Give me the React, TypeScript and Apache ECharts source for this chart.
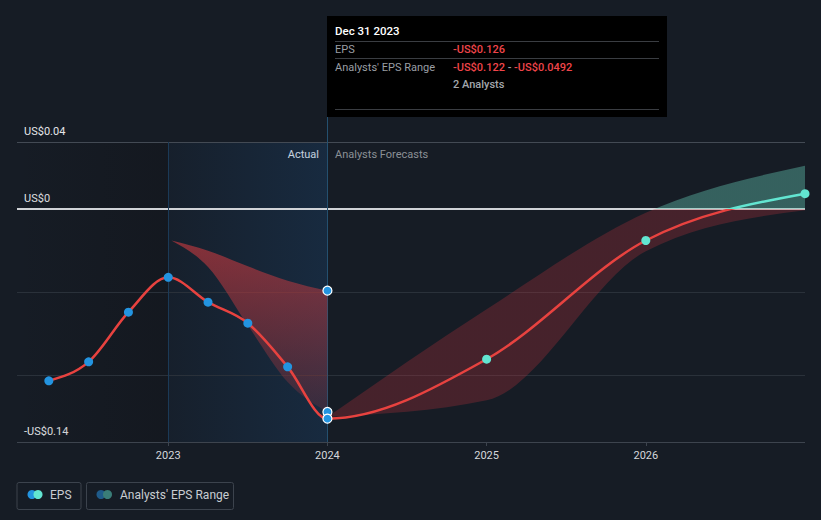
import React, { useEffect, useRef } from "react";
import * as echarts from "echarts";

// ---- data ----
const actualX = [2022.25, 2022.5, 2022.75, 2023.0, 2023.25, 2023.5, 2023.75, 2024.0];
const actualEPS = [-0.1033, -0.0919, -0.0621, -0.0412, -0.0561, -0.0687, -0.0949, -0.126];

const forecastX = [2024.0, 2025.0, 2026.0, 2027.0];
const forecastEPS = [-0.126, -0.0903, -0.0191, 0.009];
const forecastLow = [-0.125, -0.115, -0.0255, -0.001];
const forecastHigh = [-0.125, -0.0603, -0.0024, 0.0257];

const histRangeX = [2023.02, 2023.25, 2023.5, 2023.75, 2024.0];
const histRangeLow = [-0.0191, -0.035, -0.07, -0.104, -0.122];
const histRangeHigh = [-0.0191, -0.0252, -0.0346, -0.0432, -0.0492];

const rangeMarkerX = [2024.0, 2024.0];
const rangeMarkerY = [-0.122, -0.0492];

const yearLabels = [2023, 2024, 2025, 2026];
const yLabelValues = [0.04, 0, -0.14];
const gridValues = [0.04, -0.05, -0.1];

// ---- layout constants ----
const W = 821;
const H = 520;
const GRID_LEFT = 9.04;
const GRID_RIGHT = 16;
const GRID_TOP = 142;
const GRID_BOTTOM = 78;
const Y_MIN = -0.14;
const Y_MAX = 0.04;
const X_MIN = 2022;
const X_MAX = 2027;
const X_START = 2022.05; // visible start of plot

const RED = "#e8423f";
const TEAL = "#62e5d1";
const BLUE = "#2394e0";
const FONT = "Roboto, 'Noto Sans', sans-serif";

const zip = (xs: number[], ys: number[]) => xs.map((x, i) => [x, ys[i]]);

function fmtY(v: number) {
  if (Math.abs(v) < 1e-9) return "US$0";
  const s = "US$" + Math.abs(v).toFixed(2);
  return v < 0 ? "-" + s : s;
}

// ---- monotone-x cubic path helpers (pixel space) ----
type P = number[];
const sgn = (x: number) => (x < 0 ? -1 : 1);
function tangents(p: P[]): number[] {
  const n = p.length;
  const t = new Array(n).fill(0);
  if (n < 2) return t;
  if (n === 2) {
    const s = (p[1][1] - p[0][1]) / (p[1][0] - p[0][0]);
    return [s, s];
  }
  for (let i = 1; i < n - 1; i++) {
    const h0 = p[i][0] - p[i - 1][0];
    const h1 = p[i + 1][0] - p[i][0];
    const s0 = (p[i][1] - p[i - 1][1]) / h0;
    const s1 = (p[i + 1][1] - p[i][1]) / h1;
    const q = (s0 * h1 + s1 * h0) / (h0 + h1);
    t[i] = (sgn(s0) + sgn(s1)) * Math.min(Math.abs(s0), Math.abs(s1), 0.5 * Math.abs(q)) || 0;
  }
  const sFirst = (p[1][1] - p[0][1]) / (p[1][0] - p[0][0]);
  t[0] = (3 * sFirst - t[1]) / 2;
  const sLast = (p[n - 1][1] - p[n - 2][1]) / (p[n - 1][0] - p[n - 2][0]);
  t[n - 1] = (3 * sLast - t[n - 2]) / 2;
  return t;
}
function forward(p: P[], t: number[]): string {
  let d = "";
  for (let i = 0; i < p.length - 1; i++) {
    const dx = (p[i + 1][0] - p[i][0]) / 3;
    d += ` C ${p[i][0] + dx} ${p[i][1] + dx * t[i]} ${p[i + 1][0] - dx} ${p[i + 1][1] - dx * t[i + 1]} ${p[i + 1][0]} ${p[i + 1][1]}`;
  }
  return d;
}
function backward(p: P[], t: number[]): string {
  let d = "";
  for (let i = p.length - 1; i > 0; i--) {
    const dx = (p[i][0] - p[i - 1][0]) / 3;
    d += ` C ${p[i][0] - dx} ${p[i][1] - dx * t[i]} ${p[i - 1][0] + dx} ${p[i - 1][1] + dx * t[i - 1]} ${p[i - 1][0]} ${p[i - 1][1]}`;
  }
  return d;
}
function linePath(p: P[]): string {
  return `M ${p[0][0]} ${p[0][1]}` + forward(p, tangents(p));
}
function bandPath(up: P[], low: P[]): string {
  const n = low.length;
  return (
    `M ${up[0][0]} ${up[0][1]}` +
    forward(up, tangents(up)) +
    ` L ${low[n - 1][0]} ${low[n - 1][1]}` +
    backward(low, tangents(low)) +
    " Z"
  );
}

export default function App() {
  const ref = useRef<HTMLDivElement>(null);

  useEffect(() => {
    if (!ref.current) return;
    const chart = echarts.init(ref.current, undefined, { renderer: "svg" });

    const gridH = H - GRID_TOP - GRID_BOTTOM;
    const zeroY = GRID_TOP + (gridH * (Y_MAX - 0)) / (Y_MAX - Y_MIN);
    const zOff = zeroY / H;

    const splitAtZero = (above: string, below: string) =>
      new echarts.graphic.LinearGradient(
        0,
        0,
        0,
        H,
        [
          { offset: 0, color: above },
          { offset: zOff, color: above },
          { offset: zOff, color: below },
          { offset: 1, color: below },
        ],
        true
      );

    const fcBandFill = splitAtZero("rgba(100,200,180,0.40)", "rgba(200,50,60,0.27)");
    const epsLineColor = splitAtZero(TEAL, RED);

    const histBandFill = new echarts.graphic.LinearGradient(0, 0, 0, 1, [
      { offset: 0, color: "rgba(215,60,65,0.58)" },
      { offset: 1, color: "rgba(215,60,65,0.16)" },
    ]);

    const highlightFill = new echarts.graphic.LinearGradient(0, 0, 1, 0, [
      { offset: 0, color: "rgba(30,100,170,0.05)" },
      { offset: 1, color: "rgba(30,100,170,0.20)" },
    ]);
    const pastFill = new echarts.graphic.LinearGradient(0, 0, 1, 0, [
      { offset: 0, color: "rgba(15,15,18,0)" },
      { offset: 1, color: "rgba(15,15,18,0.28)" },
    ]);

    // full EPS curve: actual then forecast (shared 2024 point)
    const epsX = actualX.concat(forecastX.slice(1));
    const epsY = actualEPS.concat(forecastEPS.slice(1));

    const bandSeries = (name: string, xs: number[], lo: number[], hi: number[], fill: any) => ({
      name,
      type: "custom",
      coordinateSystem: "cartesian2d",
      clip: true,
      silent: true,
      z: 2,
      data: xs.map((x, i) => [x, lo[i], hi[i]]),
      encode: { x: 0, y: [1, 2] },
      renderItem: (params: any, api: any) => {
        if (params.dataIndex !== 0) return null;
        const up = xs.map((x, i) => api.coord([x, hi[i]]));
        const low = xs.map((x, i) => api.coord([x, lo[i]]));
        return {
          type: "path",
          shape: { pathData: bandPath(up, low) },
          style: { fill, stroke: "none" },
        };
      },
    });

    const hLine = (v: number, color: string, width: number) => [
      { coord: [X_START, v], lineStyle: { color, width, type: "solid" } },
      { coord: [X_MAX, v] },
    ];

    const option: any = {
      animation: false,
      backgroundColor: "#161c25",
      textStyle: { fontFamily: FONT },
      grid: {
        left: GRID_LEFT,
        right: GRID_RIGHT,
        top: GRID_TOP,
        bottom: GRID_BOTTOM,
        containLabel: false,
      },
      xAxis: {
        type: "value",
        min: X_MIN,
        max: X_MAX,
        interval: 1,
        axisLine: { show: false, onZero: false },
        axisTick: {
          show: true,
          customValues: yearLabels,
          length: 4,
          lineStyle: { color: "#3d444e" },
        },
        axisLabel: {
          formatter: (v: number) => {
            const r = Math.round(v);
            return yearLabels.indexOf(r) >= 0 && Math.abs(v - r) < 1e-6 ? String(r) : "";
          },
          color: "#d4d7db",
          fontSize: 11,
          fontFamily: FONT,
          margin: 8,
        },
        splitLine: { show: false },
      },
      yAxis: {
        type: "value",
        min: Y_MIN,
        max: Y_MAX,
        interval: 0.01,
        axisLine: { show: false, onZero: false },
        axisTick: { show: false },
        splitLine: { show: false },
        axisLabel: {
          inside: true,
          formatter: (v: number) => {
            const hit = yLabelValues.find((t) => Math.abs(t - v) < 1e-6);
            return hit === undefined ? "" : fmtY(hit);
          },
          color: "#e4e6e9",
          fontSize: 11,
          fontFamily: FONT,
          margin: 15,
          verticalAlign: "bottom",
          padding: [0, 0, 5, 0],
        },
      },
      series: [
        bandSeries("histRange", histRangeX, histRangeLow, histRangeHigh, histBandFill),
        bandSeries("forecastRange", forecastX, forecastLow, forecastHigh, fcBandFill),
        {
          name: "EPSLine",
          type: "custom",
          coordinateSystem: "cartesian2d",
          clip: true,
          silent: true,
          z: 3,
          data: zip(epsX, epsY),
          encode: { x: 0, y: 1 },
          renderItem: (params: any, api: any) => {
            if (params.dataIndex !== 0) return null;
            const pts = epsX.map((x, i) => api.coord([x, epsY[i]]));
            return {
              type: "path",
              shape: { pathData: linePath(pts) },
              style: { fill: "none", stroke: epsLineColor, lineWidth: 2.5, lineJoin: "round", lineCap: "round" },
            };
          },
        },
        {
          name: "actualDots",
          type: "scatter",
          z: 4,
          data: zip(actualX.slice(0, -1), actualEPS.slice(0, -1)),
          symbolSize: 9,
          itemStyle: { color: BLUE, opacity: 1 },
          silent: true,
          markArea: {
            silent: true,
            z: 1,
            data: [
              [{ coord: [X_START, Y_MAX], itemStyle: { color: pastFill } }, { coord: [2023, Y_MIN] }],
              [{ coord: [2023, Y_MAX], itemStyle: { color: highlightFill } }, { coord: [2024, Y_MIN] }],
            ],
          },
          markLine: {
            silent: true,
            z: 1,
            symbol: ["none", "none"],
            label: { show: false },
            data: [
              ...gridValues.map((v, i) => hLine(v, i === 0 ? "#434a54" : "#2a313a", 1)),
              hLine(0, "#d0d3d7", 2),
              hLine(Y_MIN, "#3d444e", 1),
              [
                { coord: [2023, Y_MIN], lineStyle: { color: "#1b3a57", width: 1, type: "solid" } },
                { coord: [2023, Y_MAX] },
              ],
              [
                { coord: [2024, Y_MIN], lineStyle: { color: "#24506f", width: 1, type: "solid" } },
                { coord: [2024, Y_MAX] },
              ],
            ],
          },
        },
        {
          name: "rangeMarkers",
          type: "scatter",
          z: 4,
          data: zip(rangeMarkerX, rangeMarkerY),
          symbolSize: 9,
          itemStyle: { color: BLUE, borderColor: "#ffffff", borderWidth: 1.2, opacity: 1 },
          silent: true,
        },
        {
          name: "latestEPS",
          type: "scatter",
          z: 4,
          data: zip(actualX.slice(-1), actualEPS.slice(-1)),
          symbolSize: 9,
          itemStyle: { color: BLUE, borderColor: "#ffffff", borderWidth: 1.2, opacity: 1 },
          silent: true,
        },
        {
          name: "forecastDots",
          type: "scatter",
          z: 4,
          data: zip(forecastX.slice(1), forecastEPS.slice(1)),
          symbolSize: 9,
          itemStyle: { color: TEAL, opacity: 1 },
          silent: true,
        },
      ],
      graphic: [
        {
          type: "text",
          x: 319,
          y: 154,
          style: {
            text: "Actual",
            fill: "#e6e8eb",
            font: `11px ${FONT}`,
            textAlign: "right",
            textVerticalAlign: "middle",
          },
          silent: true,
        },
        {
          type: "text",
          x: 335,
          y: 154,
          style: {
            text: "Analysts Forecasts",
            fill: "#8b9096",
            font: `11px ${FONT}`,
            textAlign: "left",
            textVerticalAlign: "middle",
          },
          silent: true,
        },
        {
          type: "line",
          shape: { x1: 327.5, y1: 117, x2: 327.5, y2: GRID_TOP },
          style: { stroke: "#24506f", lineWidth: 1 },
          silent: true,
        },
        {
          type: "group",
          x: 327,
          y: 16,
          silent: true,
          children: [
            { type: "rect", shape: { x: 0, y: 0, width: 340, height: 101 }, style: { fill: "#000000" } },
            {
              type: "text",
              x: 8,
              y: 15,
              style: { text: "Dec 31 2023", fill: "#ffffff", font: `500 11.5px ${FONT}`, textVerticalAlign: "middle" },
            },
            { type: "line", shape: { x1: 8, y1: 25.5, x2: 332, y2: 25.5 }, style: { stroke: "#3a3d42", lineWidth: 1 } },
            {
              type: "text",
              x: 8,
              y: 33,
              style: { text: "EPS", fill: "#9a9ea4", font: `11px ${FONT}`, textVerticalAlign: "middle" },
            },
            {
              type: "text",
              x: 126,
              y: 33,
              style: { text: "-US$0.126", fill: "#f0454a", font: `500 11px ${FONT}`, textVerticalAlign: "middle" },
            },
            { type: "line", shape: { x1: 8, y1: 42.5, x2: 332, y2: 42.5 }, style: { stroke: "#3a3d42", lineWidth: 1 } },
            {
              type: "text",
              x: 8,
              y: 51,
              style: { text: "Analysts' EPS Range", fill: "#9a9ea4", font: `11px ${FONT}`, textVerticalAlign: "middle" },
            },
            {
              type: "text",
              x: 126,
              y: 51,
              style: {
                text: "{r|-US$0.122}{g| - }{r|-US$0.0492}",
                textVerticalAlign: "middle",
                font: `500 11px ${FONT}`,
                rich: {
                  r: { fill: "#f0454a", font: `500 11px ${FONT}` },
                  g: { fill: "#9a9ea4", font: `500 11px ${FONT}` },
                },
              },
            },
            {
              type: "text",
              x: 126,
              y: 68,
              style: { text: "2 Analysts", fill: "#a3a7ad", font: `500 11px ${FONT}`, textVerticalAlign: "middle" },
            },
            { type: "line", shape: { x1: 8, y1: 93.5, x2: 332, y2: 93.5 }, style: { stroke: "#3a3d42", lineWidth: 1 } },
          ],
        },
        {
          type: "group",
          x: 0,
          y: 0,
          silent: true,
          children: [
            {
              type: "rect",
              shape: { x: 17, y: 482.5, width: 64, height: 27, r: 2 },
              style: { fill: "none", stroke: "#3c434d", lineWidth: 1 },
            },
            { type: "circle", shape: { cx: 32, cy: 494.5, r: 4.5 }, style: { fill: BLUE } },
            { type: "circle", shape: { cx: 38, cy: 494.5, r: 4.5 }, style: { fill: TEAL } },
            {
              type: "text",
              x: 50,
              y: 495,
              style: { text: "EPS", fill: "#c9cdd2", font: `12px ${FONT}`, textVerticalAlign: "middle" },
            },
            {
              type: "rect",
              shape: { x: 86.5, y: 482.5, width: 147, height: 27, r: 2 },
              style: { fill: "none", stroke: "#3c434d", lineWidth: 1 },
            },
            { type: "circle", shape: { cx: 101, cy: 494.5, r: 4.5 }, style: { fill: "#1f5b8a" } },
            { type: "circle", shape: { cx: 107.5, cy: 494.5, r: 4.5 }, style: { fill: "#3a7d78" } },
            {
              type: "text",
              x: 120,
              y: 495,
              style: { text: "Analysts' EPS Range", fill: "#c9cdd2", font: `12px ${FONT}`, textVerticalAlign: "middle" },
            },
          ],
        },
      ],
    };

    chart.setOption(option);
    return () => chart.dispose();
  }, []);

  return (
    <div
      ref={ref}
      style={{ position: "fixed", left: 0, top: 0, width: W, height: H }}
    />
  );
}
